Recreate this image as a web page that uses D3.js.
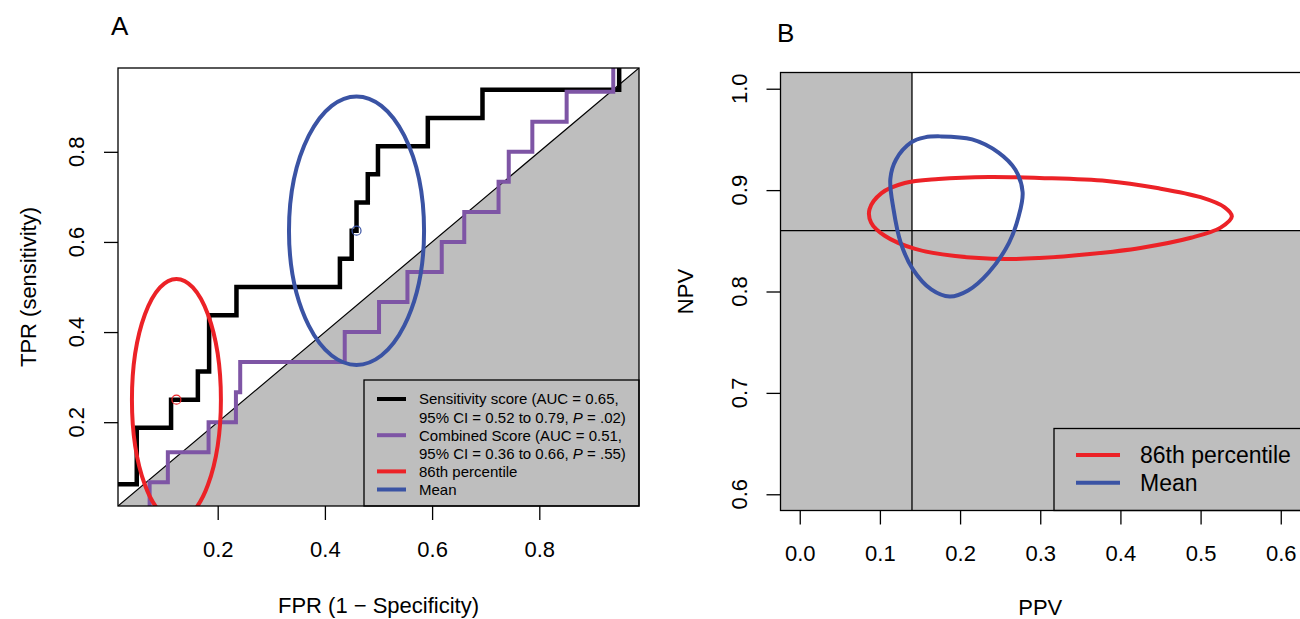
<!DOCTYPE html>
<html>
<head>
<meta charset="utf-8">
<script src="https://cdn.jsdelivr.net/npm/d3@7/dist/d3.min.js"></script>
<style>
body { margin: 0; background: #fff; }
svg { display: block; font-family: "Liberation Sans", Arial, sans-serif; }
</style>
</head>
<body>
<svg id="drawing_region"></svg>
<script>
// ---- data ----
// panel A: ROC step curves (corner points, step after)
const sensFpr = [0, 0, 0.049, 0.113, 0.163, 0.184, 0.235, 0.428, 0.450, 0.459, 0.480, 0.499, 0.592, 0.694, 0.949, 1.0];
const sensTpr = [0, 0.0625, 0.1875, 0.25, 0.3125, 0.4375, 0.5, 0.5625, 0.625, 0.6875, 0.75, 0.8125, 0.875, 0.9375, 1.0, 1.0];
const combFpr = [0, 0.073, 0.107, 0.183, 0.234, 0.242, 0.437, 0.501, 0.554, 0.618, 0.660, 0.724, 0.743, 0.787, 0.851, 0.938, 1.0];
const combTpr = [0, 0.0667, 0.1333, 0.2, 0.2667, 0.3333, 0.4, 0.4667, 0.5333, 0.6, 0.6667, 0.7333, 0.8, 0.8667, 0.9333, 1.0, 1.0];

// cut-off points and their confidence ellipses (86th percentile, mean)
const cutNames = ["86th percentile", "Mean"];
const cutFpr = [0.123, 0.459];
const cutTpr = [0.25, 0.625];
const cutFprHalf = [0.083, 0.126];
const cutTprHalf = [0.268, 0.298];

const rocTicks = [0.2, 0.4, 0.6, 0.8];
const rocLegend = [
    ["Sensitivity score (AUC = 0.65,", "95% CI = 0.52 to 0.79, ", ".02)"],
    ["Combined Score (AUC = 0.51,", "95% CI = 0.36 to 0.66, ", ".55)"],
    ["86th percentile"],
    ["Mean"]
];

// panel B: PPV / NPV confidence regions
const redPpv = [0.087, 0.102, 0.131, 0.173, 0.236, 0.299, 0.383, 0.446, 0.500, 0.530, 0.539, 0.525, 0.488, 0.425, 0.362, 0.299, 0.257, 0.194, 0.144, 0.106, 0.089];
const redNpv = [0.881, 0.897, 0.907, 0.911, 0.913, 0.912, 0.909, 0.902, 0.893, 0.883, 0.874, 0.863, 0.853, 0.843, 0.837, 0.833, 0.832, 0.835, 0.842, 0.855, 0.868];
const bluePpv = [0.175, 0.215, 0.248, 0.269, 0.278, 0.273, 0.261, 0.236, 0.210, 0.187, 0.164, 0.141, 0.126, 0.117, 0.113, 0.120, 0.139, 0.156];
const blueNpv = [0.953, 0.950, 0.937, 0.920, 0.898, 0.874, 0.848, 0.819, 0.801, 0.795, 0.802, 0.822, 0.848, 0.881, 0.911, 0.930, 0.947, 0.952];
const ppvCut = 0.14;
const npvCut = 0.86;
const ppvTicks = [0.0, 0.1, 0.2, 0.3, 0.4, 0.5, 0.6];
const npvTicks = [0.6, 0.7, 0.8, 0.9, 1.0];

// ---- styles ----
const RED = "#ec2227", BLUE = "#3a53a4", PURPLE = "#7e55a5", GREY = "#bebebe";
const FS = 22;

const svg = d3.select("#drawing_region")
    .attr("width", 1300)
    .attr("height", 619);

svg.append("rect").attr("width", 1300).attr("height", 619).attr("fill", "#fff");

function yLabels(g, scale, ticks, x0, off) {
    g.selectAll("text.ytick")
        .data(ticks)
        .join("text")
        .attr("class", "ytick")
        .attr("transform", d => `translate(${x0 - off}, ${scale(d)}) rotate(-90)`)
        .attr("text-anchor", "middle")
        .attr("font-size", FS)
        .text(d3.format(".1f"));
}

// ================= panel A =================
function drawRoc() {
    const m = {left: 118, top: 68, width: 521, height: 438};
    const x = d3.scaleLinear().domain([0.014, 0.986]).range([m.left, m.left + m.width]);
    const y = d3.scaleLinear().domain([0.014, 0.986]).range([m.top + m.height, m.top]);
    const [lo, hi] = x.domain();

    const g = svg.append("g");
    g.append("clipPath").attr("id", "clipA")
        .append("rect").attr("x", m.left).attr("y", m.top).attr("width", m.width).attr("height", m.height);
    const plot = g.append("g").attr("clip-path", "url(#clipA)");

    // chance region below the diagonal
    plot.append("path")
        .attr("d", d3.line()([[x(lo), y(lo)], [x(hi), y(lo)], [x(hi), y(hi)]]) + "Z")
        .attr("fill", GREY);
    plot.append("line")
        .attr("x1", x(lo)).attr("y1", y(lo)).attr("x2", x(hi)).attr("y2", y(hi))
        .attr("stroke", "#000").attr("stroke-width", 1.2);

    const step = d3.line().x(d => x(d[0])).y(d => y(d[1])).curve(d3.curveStepAfter);
    plot.append("path").datum(d3.zip(sensFpr, sensTpr))
        .attr("d", step).attr("fill", "none").attr("stroke", "#000").attr("stroke-width", 4.5);
    plot.append("path").datum(d3.zip(combFpr, combTpr))
        .attr("d", step).attr("fill", "none").attr("stroke", PURPLE).attr("stroke-width", 4);

    const cols = [RED, BLUE];
    plot.selectAll("ellipse")
        .data(cutNames)
        .join("ellipse")
        .attr("cx", (d, i) => x(cutFpr[i]))
        .attr("cy", (d, i) => y(cutTpr[i]))
        .attr("rx", (d, i) => x(cutFpr[i] + cutFprHalf[i]) - x(cutFpr[i]))
        .attr("ry", (d, i) => y(cutTpr[i]) - y(cutTpr[i] + cutTprHalf[i]))
        .attr("fill", "none")
        .attr("stroke", (d, i) => cols[i])
        .attr("stroke-width", 4);
    plot.selectAll("circle")
        .data(cutNames)
        .join("circle")
        .attr("cx", (d, i) => x(cutFpr[i]))
        .attr("cy", (d, i) => y(cutTpr[i]))
        .attr("r", 4.5)
        .attr("fill", "none")
        .attr("stroke", (d, i) => cols[i])
        .attr("stroke-width", 1.2);

    // legend
    const lg = g.append("g");
    const lx = 364, ly = 380;
    lg.append("rect")
        .attr("x", lx).attr("y", ly)
        .attr("width", m.left + m.width - lx).attr("height", m.top + m.height - ly)
        .attr("fill", GREY).attr("stroke", "#000").attr("stroke-width", 1.3);
    const lineCol = ["#000", PURPLE, RED, BLUE];
    let row = 0;
    rocLegend.forEach((item, i) => {
        const cy = 399 + row * 18.1;
        lg.append("line")
            .attr("x1", 377).attr("x2", 406).attr("y1", cy).attr("y2", cy)
            .attr("stroke", lineCol[i]).attr("stroke-width", 4);
        lg.append("text")
            .attr("x", 419).attr("y", cy).attr("dy", "0.36em")
            .attr("font-size", 15)
            .text(item[0]);
        row++;
        if (item.length > 1) {
            const t = lg.append("text")
                .attr("x", 419).attr("y", 399 + row * 18.1).attr("dy", "0.36em")
                .attr("font-size", 15);
            t.append("tspan").text(item[1]);
            t.append("tspan").attr("font-style", "italic").text("P");
            t.append("tspan").text(" = " + item[2]);
            row++;
        }
    });

    // frame
    g.append("rect")
        .attr("x", m.left).attr("y", m.top).attr("width", m.width).attr("height", m.height)
        .attr("fill", "none").attr("stroke", "#000").attr("stroke-width", 1.3);

    // axes
    const xaxis = d3.axisBottom(x).tickValues(rocTicks).tickSize(14).tickPadding(21)
        .tickFormat(d3.format(".1f"));
    const xg = g.append("g")
        .attr("transform", `translate(0, ${m.top + m.height})`)
        .call(xaxis);
    xg.select(".domain").remove();
    xg.selectAll("line").attr("stroke-width", 1.3);
    xg.selectAll("text").attr("font-size", FS).attr("font-family", null);

    const yaxis = d3.axisLeft(y).tickValues(rocTicks).tickSize(14).tickFormat("");
    const yg = g.append("g")
        .attr("transform", `translate(${m.left}, 0)`)
        .call(yaxis);
    yg.select(".domain").remove();
    yg.selectAll("line").attr("stroke-width", 1.3);
    yLabels(g, y, rocTicks, m.left, 34);

    g.append("text")
        .attr("x", m.left + m.width / 2).attr("y", 613)
        .attr("text-anchor", "middle").attr("font-size", FS)
        .text("FPR (1 \u2212 Specificity)");
    g.append("text")
        .attr("transform", `translate(36, ${m.top + m.height / 2}) rotate(-90)`)
        .attr("text-anchor", "middle").attr("font-size", FS)
        .text("TPR (sensitivity)");
    g.append("text")
        .attr("x", 111).attr("y", 35)
        .attr("font-size", 26)
        .text("A");
}

// ================= panel B =================
function drawPredictive() {
    const m = {left: 780.5, top: 72.5, width: 519.5, height: 438};
    const x = d3.scaleLinear().domain([-0.024, 0.624]).range([m.left, m.left + m.width]);
    const y = d3.scaleLinear().domain([0.584, 1.016]).range([m.top + m.height, m.top]);
    const [x0, x1] = x.domain();
    const [y0, y1] = y.domain();

    const g = svg.append("g");
    g.append("clipPath").attr("id", "clipB")
        .append("rect").attr("x", m.left).attr("y", m.top).attr("width", m.width).attr("height", m.height);
    const plot = g.append("g").attr("clip-path", "url(#clipB)");

    // regions below the cut-offs
    plot.append("rect")
        .attr("x", x(x0)).attr("y", y(y1))
        .attr("width", x(ppvCut) - x(x0)).attr("height", y(y0) - y(y1))
        .attr("fill", GREY);
    plot.append("rect")
        .attr("x", x(x0)).attr("y", y(npvCut))
        .attr("width", x(x1) - x(x0)).attr("height", y(y0) - y(npvCut))
        .attr("fill", GREY);
    plot.append("line")
        .attr("x1", x(ppvCut)).attr("x2", x(ppvCut)).attr("y1", y(y0)).attr("y2", y(y1))
        .attr("stroke", "#000").attr("stroke-width", 1.3);
    plot.append("line")
        .attr("x1", x(x0)).attr("x2", x(x1)).attr("y1", y(npvCut)).attr("y2", y(npvCut))
        .attr("stroke", "#000").attr("stroke-width", 1.3);

    const loop = d3.line().x(d => x(d[0])).y(d => y(d[1])).curve(d3.curveCatmullRomClosed.alpha(0.5));
    plot.append("path").datum(d3.zip(redPpv, redNpv))
        .attr("d", loop).attr("fill", "none").attr("stroke", RED).attr("stroke-width", 4);
    plot.append("path").datum(d3.zip(bluePpv, blueNpv))
        .attr("d", loop).attr("fill", "none").attr("stroke", BLUE).attr("stroke-width", 4);

    // legend
    const lx = 1054, ly = 428.5;
    g.append("rect")
        .attr("x", lx).attr("y", ly)
        .attr("width", 300).attr("height", m.top + m.height - ly)
        .attr("fill", GREY).attr("stroke", "#000").attr("stroke-width", 1.3);
    [RED, BLUE].forEach((c, i) => {
        const cy = 455 + i * 27.7;
        g.append("line")
            .attr("x1", 1076).attr("x2", 1120).attr("y1", cy).attr("y2", cy)
            .attr("stroke", c).attr("stroke-width", 4);
        g.append("text")
            .attr("x", 1140).attr("y", cy).attr("dy", "0.36em")
            .attr("font-size", 23)
            .text(cutNames[i]);
    });

    g.append("rect")
        .attr("x", m.left).attr("y", m.top).attr("width", m.width + 10).attr("height", m.height)
        .attr("fill", "none").attr("stroke", "#000").attr("stroke-width", 1.3);

    const xaxis = d3.axisBottom(x).tickValues(ppvTicks).tickSize(14).tickPadding(21)
        .tickFormat(d3.format(".1f"));
    const xg = g.append("g")
        .attr("transform", `translate(0, ${m.top + m.height})`)
        .call(xaxis);
    xg.select(".domain").remove();
    xg.selectAll("line").attr("stroke-width", 1.3);
    xg.selectAll("text").attr("font-size", FS).attr("font-family", null);

    const yaxis = d3.axisLeft(y).tickValues(npvTicks).tickSize(14).tickFormat("");
    const yg = g.append("g")
        .attr("transform", `translate(${m.left}, 0)`)
        .call(yaxis);
    yg.select(".domain").remove();
    yg.selectAll("line").attr("stroke-width", 1.3);
    yLabels(g, y, npvTicks, m.left, 34);

    g.append("text")
        .attr("x", m.left + m.width / 2).attr("y", 615)
        .attr("text-anchor", "middle").attr("font-size", FS)
        .text("PPV");
    g.append("text")
        .attr("transform", `translate(693, ${m.top + m.height / 2}) rotate(-90)`)
        .attr("text-anchor", "middle").attr("font-size", FS)
        .text("NPV");
    g.append("text")
        .attr("x", 777).attr("y", 42)
        .attr("font-size", 26)
        .text("B");
}

drawRoc();
drawPredictive();
</script>
</body>
</html>
